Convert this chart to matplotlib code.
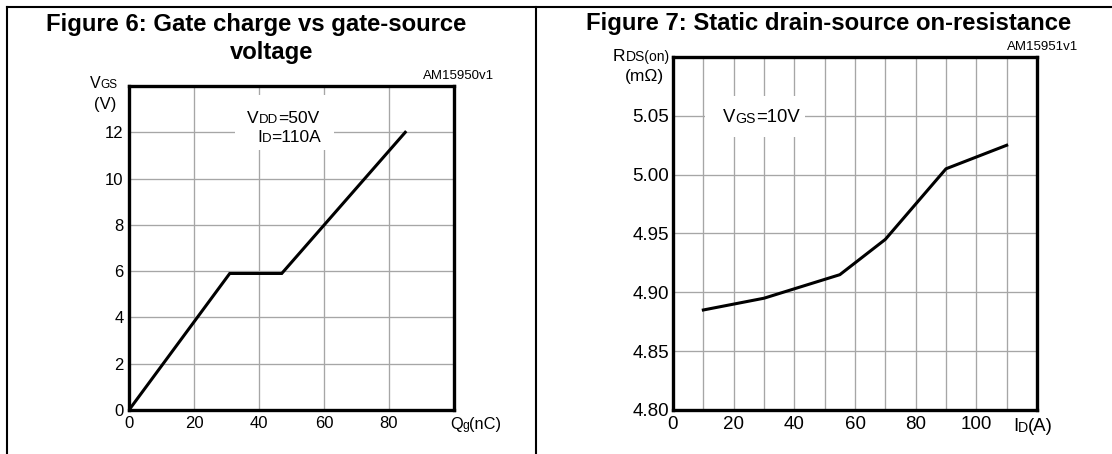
import matplotlib
matplotlib.use("Agg")
import matplotlib.pyplot as plt
from matplotlib.lines import Line2D
from matplotlib.patches import Rectangle

plt.rcParams['font.family'] = ['Liberation Sans', 'DejaVu Sans']

# Figure 6 data: gate charge vs gate-source voltage
qg_nc = [0, 31, 47, 85]
vgs_v = [0, 5.9, 5.9, 12.0]
fig6_xticks = [0, 20, 40, 60, 80]
fig6_yticks = [0, 2, 4, 6, 8, 10, 12]

# Figure 7 data: static drain-source on-resistance
id_a = [10, 20, 30, 40, 55, 70, 90, 110]
rds_mohm = [4.885, 4.890, 4.895, 4.903, 4.915, 4.945, 5.005, 5.025]
fig7_xticks = [0, 10, 20, 30, 40, 50, 60, 70, 80, 90, 100, 110]
fig7_xlabels = ['0', '', '20', '', '40', '', '60', '', '80', '', '100', '']
fig7_yticks = [4.80, 4.85, 4.90, 4.95, 5.00, 5.05]

W, H = 1112, 454
fig = plt.figure(figsize=(W / 100, H / 100), dpi=100)


def fx(x):
    return x / W


def fy(y):
    return 1 - y / H


def rich(ax, x, y, parts):
    # parts: list of (text, fontsize); drawn side by side on one baseline
    s, fs = parts[0]
    t = fig.text(fx(x), fy(y), s, fontsize=fs, ha='left', va='baseline')
    for s, fs in parts[1:]:
        t = ax.annotate(s, xy=(1, 0), xycoords=t, ha='left', va='bottom',
                        fontsize=fs, annotation_clip=False)
    return t


def style(ax, spine_lw):
    for sp in ax.spines.values():
        sp.set_linewidth(spine_lw)
        sp.set_color('black')
        sp.set_zorder(5)
    ax.grid(True, color='#a6a6a6', linewidth=0.95)
    ax.set_axisbelow(True)
    ax.tick_params(length=0)


# frame lines of the table
for xs, ys in [((7, W), (7, 7)), ((7, 7), (7, H)), ((536, 536), (7, H))]:
    fig.add_artist(Line2D([fx(v) for v in xs], [fy(v) for v in ys],
                          transform=fig.transFigure, color='black', lw=1.5))

# ---- Figure 6 ----
ax1 = fig.add_axes([fx(129), fy(410), fx(454) - fx(129), fy(86) - fy(410)])
style(ax1, 2.4)
ax1.set_xlim(0, 100)
ax1.set_ylim(0, 14)
ax1.set_xticks(fig6_xticks)
ax1.set_yticks(fig6_yticks)
ax1.tick_params(axis='both', labelsize=12)
ax1.tick_params(axis='x', pad=4)
ax1.tick_params(axis='y', pad=4)
ax1.plot(qg_nc, vgs_v, color='black', lw=2.2, solid_joinstyle='miter', zorder=4)
ax1.add_patch(Rectangle((32.6, 11.24), 30.5, 2.36, facecolor='white',
                        edgecolor='none', zorder=2))

fig.text(fx(256), fy(31.5), 'Figure 6: Gate charge vs gate-source',
         fontsize=17.2, fontweight='bold', ha='center', va='baseline')
fig.text(fx(272), fy(58.5), 'voltage', fontsize=17.2, fontweight='bold',
         ha='center', va='baseline')
fig.text(fx(494), fy(76), 'AM15950v1', fontsize=9.5, ha='right', va='center')
rich(ax1, 90, 88, [('V', 11.5), ('GS', 8.5)])
fig.text(fx(105), fy(104), '(V)', fontsize=12, ha='center', va='center')
rich(ax1, 247, 123, [('V', 12.5), ('DD', 9.5), ('=50V', 12.5)])
rich(ax1, 257, 142, [('I', 12.5), ('D', 9.5), ('=110A', 12.5)])
rich(ax1, 450, 429, [('Q', 11.8), ('g', 8.8), ('(nC)', 11.8)])

# ---- Figure 7 ----
ax2 = fig.add_axes([fx(673), fy(410), fx(1037) - fx(673), fy(57) - fy(410)])
style(ax2, 2.4)
ax2.set_xlim(0, 120)
ax2.set_ylim(4.80, 5.10)
ax2.set_xticks(fig7_xticks)
ax2.set_xticklabels(fig7_xlabels)
ax2.set_yticks(fig7_yticks)
ax2.set_yticklabels(['%.2f' % v for v in fig7_yticks])
ax2.tick_params(axis='both', labelsize=13.5)
ax2.tick_params(axis='x', pad=4)
ax2.tick_params(axis='y', pad=3)
ax2.plot(id_a, rds_mohm, color='black', lw=2.2, zorder=4)
ax2.add_patch(Rectangle((10.5, 5.032), 33.0, 0.035, facecolor='white',
                        edgecolor='none', zorder=2))

fig.text(fx(829), fy(30), 'Figure 7: Static drain-source on-resistance',
         fontsize=17.2, fontweight='bold', ha='center', va='baseline')
fig.text(fx(1078), fy(47), 'AM15951v1', fontsize=9.5, ha='right', va='center')
rich(ax2, 613, 61, [('R', 12.5), ('DS(on)', 10)])
fig.text(fx(644.5), fy(77), '(m\u03a9)', fontsize=12.5, ha='center', va='center')
rich(ax2, 723, 122, [('V', 13.3), ('GS', 10.2), ('=10V', 13.3)])
rich(ax2, 1013, 431, [('I', 13.3), ('D', 10.2), ('(A)', 13.3)])

fig.savefig('out.png', dpi=100, facecolor='white')
